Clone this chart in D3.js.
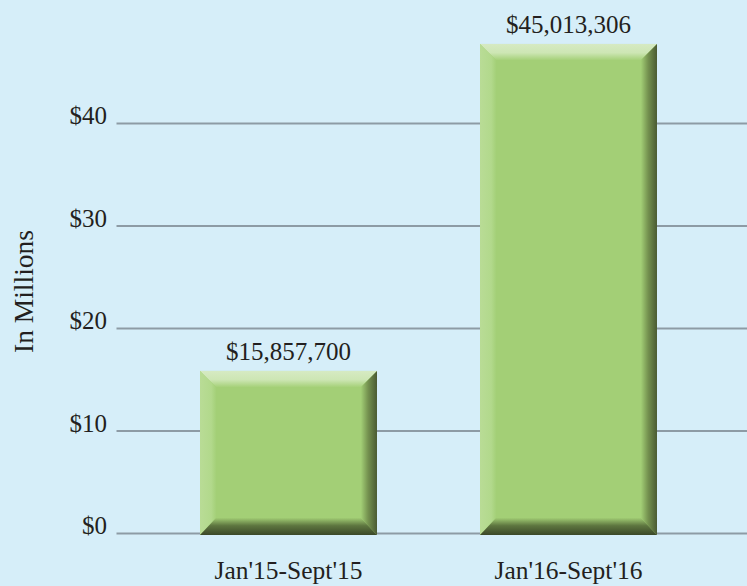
<!DOCTYPE html>
<html>
<head>
<meta charset="utf-8">
<script src="https://cdn.jsdelivr.net/npm/d3@7"></script>
<style>
  html, body { margin: 0; padding: 0; background: #d6eef9; }
  svg { display: block; }
  text { font-family: "Liberation Serif", "Times New Roman", serif; fill: #231f20; }
</style>
</head>
<body>
<svg id="chart" width="747" height="586"></svg>
<script>
// ---- Data ----
const categories = ["Jan'15-Sept'15", "Jan'16-Sept'16"];
const values = [15.86, 47.76];             // bar heights in millions, as drawn
const valueLabels = ["$15,857,700", "$45,013,306"];
const tickValues = [0, 10, 20, 30, 40];
const tickLabels = ["$0", "$10", "$20", "$30", "$40"];
const axisTitle = "In Millions";

// ---- Layout ----
const W = 747, H = 586;
const svg = d3.select("#chart");
svg.append("rect").attr("width", W).attr("height", H).attr("fill", "#d6eef9");

const y = d3.scaleLinear().domain([0, 40]).range([533.5, 123.5]);
const x = d3.scaleBand().domain(categories).range([148.5, 708.5])
  .paddingInner(0.368).paddingOuter(0.184);

const gridX0 = 116.5, gridX1 = W;

// gridlines
svg.append("g").selectAll("line").data(tickValues).join("line")
  .attr("x1", gridX0).attr("x2", gridX1)
  .attr("y1", d => y(d)).attr("y2", d => y(d))
  .attr("stroke", "#8d9ba5").attr("stroke-width", 2);

// tick labels
svg.append("g").selectAll("text").data(tickValues).join("text")
  .attr("x", 107).attr("y", d => y(d) + 0.5)
  .attr("text-anchor", "end")
  .attr("font-size", 25)
  .text((d, i) => tickLabels[i]);

// axis title
svg.append("text")
  .attr("transform", "translate(33,291.5) rotate(-90)")
  .attr("text-anchor", "middle")
  .attr("font-size", 27.5)
  .text(axisTitle);

// gradients
const defs = svg.append("defs");
function grad(id, x1, y1, x2, y2, stops) {
  const g = defs.append("linearGradient").attr("id", id)
    .attr("x1", x1).attr("y1", y1).attr("x2", x2).attr("y2", y2);
  stops.forEach(s => g.append("stop").attr("offset", s[0]).attr("stop-color", s[1]));
}
grad("gTop", 0, 0, 0, 1, [[0, "#d6eac3"], [0.55, "#cde6b4"], [1, "#a6d17a"]]);
grad("gLeft", 0, 0, 1, 0, [[0, "#b9dc96"], [0.7, "#b2d98c"], [1, "#a4d078"]]);
grad("gRight", 0, 0, 1, 0, [[0, "#a2ce75"], [0.45, "#74914f"], [1, "#4a5a33"]]);
grad("gBottom", 0, 0, 0, 1, [[0, "#a0cb73"], [0.45, "#5e7640"], [1, "#3b4828"]]);

const bevelX = 16, bevelTop = 16, bevelBottom = 17;

const bars = svg.append("g").selectAll("g").data(categories).join("g");
bars.each(function(c, i) {
  const g = d3.select(this);
  const x0 = x(c), x1 = x(c) + x.bandwidth();
  const y0 = y(values[i]), y1 = y(0) + 1.5;
  g.append("rect").attr("x", x0).attr("y", y0)
    .attr("width", x1 - x0).attr("height", y1 - y0).attr("fill", "#a3cf76");
  const pts = a => a.map(p => p.join(",")).join(" ");
  g.append("polygon").attr("fill", "url(#gTop)").attr("points", pts([
    [x0, y0], [x1, y0], [x1 - bevelX, y0 + bevelTop], [x0 + bevelX, y0 + bevelTop]]));
  g.append("polygon").attr("fill", "url(#gLeft)").attr("points", pts([
    [x0, y0], [x0 + bevelX, y0 + bevelTop], [x0 + bevelX, y1 - bevelBottom], [x0, y1]]));
  g.append("polygon").attr("fill", "url(#gRight)").attr("points", pts([
    [x1, y0], [x1, y1], [x1 - bevelX, y1 - bevelBottom], [x1 - bevelX, y0 + bevelTop]]));
  g.append("polygon").attr("fill", "url(#gBottom)").attr("points", pts([
    [x0, y1], [x0 + bevelX, y1 - bevelBottom], [x1 - bevelX, y1 - bevelBottom], [x1, y1]]));
});

// value labels
svg.append("g").selectAll("text").data(categories).join("text")
  .attr("x", c => x(c) + x.bandwidth() / 2)
  .attr("y", (c, i) => y(values[i]) - 10.5)
  .attr("text-anchor", "middle")
  .attr("font-size", 25)
  .text((c, i) => valueLabels[i]);

// category labels
svg.append("g").selectAll("text").data(categories).join("text")
  .attr("x", c => x(c) + x.bandwidth() / 2)
  .attr("y", 579)
  .attr("text-anchor", "middle")
  .attr("font-size", 25.5)
  .text(c => c);
</script>
</body>
</html>
